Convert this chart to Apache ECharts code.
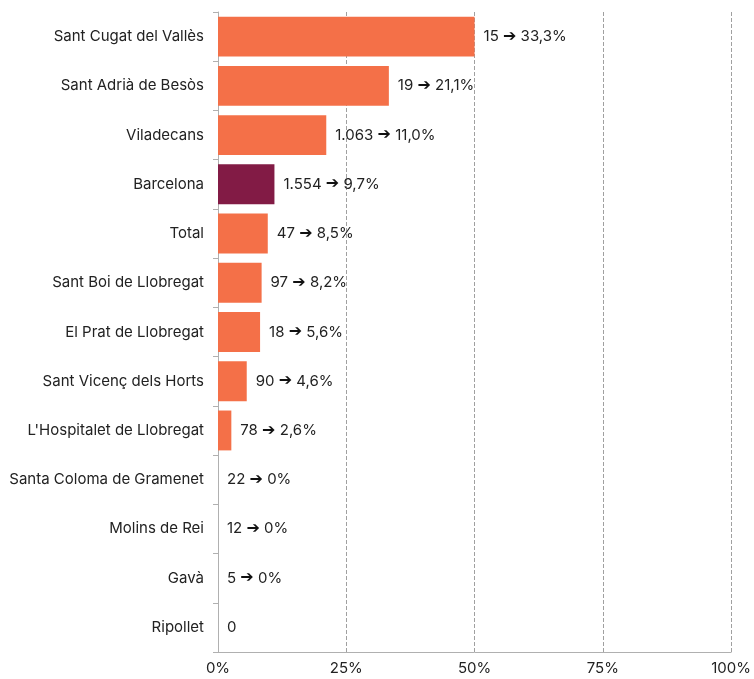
<!DOCTYPE html>
<html>
<head>
<meta charset="utf-8">
<script src="https://cdn.jsdelivr.net/npm/echarts@6/dist/echarts.min.js"></script>
<style>
  html, body { margin: 0; padding: 0; background: #fff; }
  #chart { width: 754px; height: 679px; }
</style>
</head>
<body>
<div id="chart"></div>
<script>
// categories, top to bottom
var municipis = [
  'Sant Cugat del Vallès', 'Sant Adrià de Besòs', 'Viladecans', 'Barcelona', 'Total',
  'Sant Boi de Llobregat', 'El Prat de Llobregat', 'Sant Vicenç dels Horts',
  "L'Hospitalet de Llobregat", 'Santa Coloma de Gramenet', 'Molins de Rei', 'Gavà', 'Ripollet'
];
// bar lengths as drawn (%)
var barres = [50, 33.3, 21.1, 11.0, 9.7, 8.5, 8.2, 5.6, 2.6, 0, 0, 0, 0];
// label parts
var totals = ['15', '19', '1.063', '1.554', '47', '97', '18', '90', '78', '22', '12', '5', '0'];
var percents = ['33,3%', '21,1%', '11,0%', '9,7%', '8,5%', '8,2%', '5,6%', '4,6%', '2,6%', '0%', '0%', '0%', ''];
var destacat = 'Barcelona';

var chart = echarts.init(document.getElementById('chart'));

var FONT = 'Inter, Roboto, "DejaVu Sans", sans-serif';

var option = {
  animation: false,
  grid: { left: 218, right: 21, top: 12, bottom: 27, containLabel: false },
  xAxis: {
    type: 'value',
    min: 0,
    max: 100,
    interval: 25,
    axisLine: { show: true, lineStyle: { color: '#b0b0b0' } },
    axisTick: { show: false },
    axisLabel: {
      formatter: '{value}%',
      color: '#222',
      fontSize: 15,
      fontFamily: FONT,
      margin: 9
    },
    splitLine: { show: true, lineStyle: { type: 'dashed', color: '#a0a0a0' } }
  },
  yAxis: {
    type: 'category',
    inverse: true,
    data: municipis,
    axisLine: { show: true, lineStyle: { color: '#b0b0b0' } },
    axisTick: { show: true, length: 5, lineStyle: { color: '#b0b0b0' } },
    axisLabel: { color: '#222', fontSize: 15, fontFamily: FONT, margin: 14 }
  },
  series: [{
    type: 'bar',
    barCategoryGap: '19%',
    data: barres.map(function (v, i) {
      return {
        value: v,
        itemStyle: { color: municipis[i] === destacat ? '#821b45' : '#f47048' }
      };
    }),
    label: {
      show: true,
      position: 'right',
      distance: 9,
      color: '#222',
      fontSize: 15,
      fontFamily: FONT,
      formatter: function (p) {
        var i = p.dataIndex;
        return percents[i] ? totals[i] + ' {a|\u2794} ' + percents[i] : totals[i];
      },
      rich: {
        a: { fontSize: 16, fontWeight: 'bold', color: '#111', fontFamily: '"DejaVu Sans", sans-serif' }
      }
    }
  }]
};

chart.setOption(option);
</script>
</body>
</html>
